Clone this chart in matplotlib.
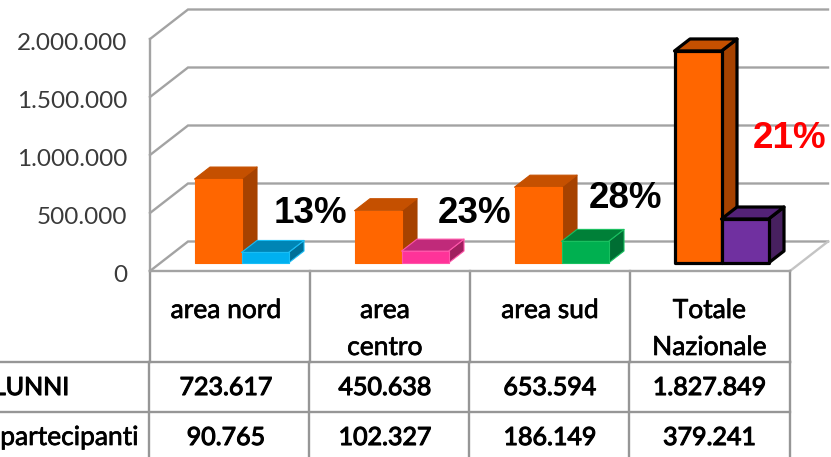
import matplotlib
matplotlib.use("Agg")
import matplotlib.pyplot as plt
import matplotlib.patheffects as pe
from matplotlib.patches import Polygon
from matplotlib.transforms import ScaledTranslation

# Data
aree = ["area nord", "area\ncentro", "area sud", "Totale\nNazionale"]
alunni = [723617, 450638, 653594, 1827849]
partecipanti = [90765, 102327, 186149, 379241]
percentuali = ["13%", "23%", "28%", "21%"]
righe = ["LUNNI", "partecipanti"]
y_ticks = [0, 500000, 1000000, 1500000, 2000000]

W, H = 831, 457
GRID = "#a3a3a3"
TABLE = "#969696"
TICKTXT = "#3a3a3a"

# colours of the second bar: front, top, side, edge
colori = [
    ("#00b0f0", "#0085b5", "#006f98", "#19bdf5"),
    ("#ff3399", "#c02a7a", "#a0205f", "#ff55aa"),
    ("#00b050", "#008038", "#006e33", "#19c060"),
    ("#7030a0", "#532277", "#47205f", "black"),
]
arancio = ("#ff6600", "#c55000", "#a64200")

plt.rcParams["font.family"] = "Lato"
fig = plt.figure(figsize=(W / 100, H / 100), dpi=100)

# chart axes = front plane of the 3D box
ax = fig.add_axes([150 / W, (H - 271) / H, 640 / W, 232 / H])
ax.set_xlim(0, 4)
ax.set_ylim(0, 2000000)
ax.set_xticks([])
ax.set_yticks(y_ticks)
ax.set_yticklabels([f"{v:,}".replace(",", ".") for v in y_ticks], fontsize=17.5, color=TICKTXT)
ax.tick_params(axis="y", length=0, pad=16.5)
# labels sit a bit below the tick position
for lab in ax.get_yticklabels():
    lab.set_transform(lab.get_transform() + ScaledTranslation(0, -2.5 / 100, fig.dpi_scale_trans))
for s in ax.spines.values():
    s.set_visible(False)
ax.patch.set_alpha(0)

# pixel sizes in data units
sx = 1 / 160
sy = 2000000 / 232
wall_dx, wall_dy = 38 * sx, 29.5 * sy
bar_dx, bar_dy = 15.5 * sx, 12 * sy
base = 8 * sy
bar_w = 47 * sx
bar_off = 44.5 * sx

# walls and floor
for v in y_ticks:
    ax.plot([0, wall_dx, 4 + wall_dx], [v, v + wall_dy, v + wall_dy],
            color=GRID, lw=1.7, clip_on=False, zorder=1, solid_joinstyle="miter")
ax.plot([0, 0], [0, 2000000], color=GRID, lw=1.7, clip_on=False, zorder=1)
ax.plot([4, 4 + wall_dx], [0, wall_dy], color="#c4c4c4", lw=1.7, clip_on=False, zorder=1)


def bar3d(x, val, cols, edge, lw, z):
    y0, y1 = base, base + val
    x1 = x + bar_w
    side = [(x1, y0), (x1 + bar_dx, y0 + bar_dy), (x1 + bar_dx, y1 + bar_dy), (x1, y1)]
    top = [(x, y1), (x + bar_dx, y1 + bar_dy), (x1 + bar_dx, y1 + bar_dy), (x1, y1)]
    front = [(x, y0), (x1, y0), (x1, y1), (x, y1)]
    for pts, c in [(side, cols[2]), (top, cols[1]), (front, cols[0])]:
        ax.add_patch(Polygon(pts, closed=True, facecolor=c, edgecolor=edge or c, lw=lw,
                             clip_on=False, zorder=z, joinstyle="round"))


for i in range(4):
    tot = i == 3
    ec = "black" if tot else None
    lw = 2.3 if tot else 0.8
    bar3d(i + bar_off, alunni[i], arancio, ec, lw, 3)
    c = colori[i]
    bar3d(i + bar_off + bar_w, partecipanti[i], c[:3], ec or c[3], lw, 4)

# overlay in pixel coordinates: table and percentages
ov = fig.add_axes([0, 0, 1, 1])
ov.set_xlim(0, W)
ov.set_ylim(H, 0)
ov.axis("off")

for x in [150, 310, 470, 630, 790]:
    ov.plot([x, x], [271, 362], color=TABLE, lw=1.7)
for x in [149, 309, 469, 628.5, 789.5]:
    ov.plot([x, x], [362, H], color=TABLE, lw=1.7)
ov.plot([150, 790], [271, 271], color=GRID, lw=1.7)
for y in [362, 412]:
    ov.plot([0, 790], [y, y], color=TABLE, lw=1.7)

# Lato regular looks too thin next to the original, thicken it a little
spesso = [pe.withStroke(linewidth=0.5, foreground="black")]
spesso_num = [pe.withStroke(linewidth=0.8, foreground="black")]

centri = [226, 385, 550, 709.5]
for x, nome in zip(centri, aree):
    parti = nome.split("\n")
    ov.text(x, 318, parti[0], ha="center", va="baseline", fontsize=19, color="black", path_effects=spesso)
    if len(parti) > 1:
        ov.text(x, 355, parti[1], ha="center", va="baseline", fontsize=19, color="black", path_effects=spesso)

for x, a, p in zip(centri, alunni, partecipanti):
    ov.text(x, 395, f"{a:,}".replace(",", "."), ha="center", va="baseline",
            fontsize=18, color="black", path_effects=spesso_num)
    ov.text(x, 445, f"{p:,}".replace(",", "."), ha="center", va="baseline",
            fontsize=18, color="black", path_effects=spesso_num)
ov.text(69, 395, righe[0], ha="right", va="baseline", fontsize=18, color="black", path_effects=spesso_num)
ov.text(139, 445, righe[1], ha="right", va="baseline", fontsize=19, color="black", path_effects=spesso)

perc_x = [310, 475, 625, 790]
perc_y = [223, 223, 208, 148]
perc_col = ["black", "black", "black", "#ff0000"]
for x, y, t, c in zip(perc_x, perc_y, percentuali, perc_col):
    ov.text(x, y, t, ha="center", va="baseline", fontsize=26.5, fontweight="bold",
            family="Liberation Sans", color=c)

fig.savefig("out.png", dpi=100)
